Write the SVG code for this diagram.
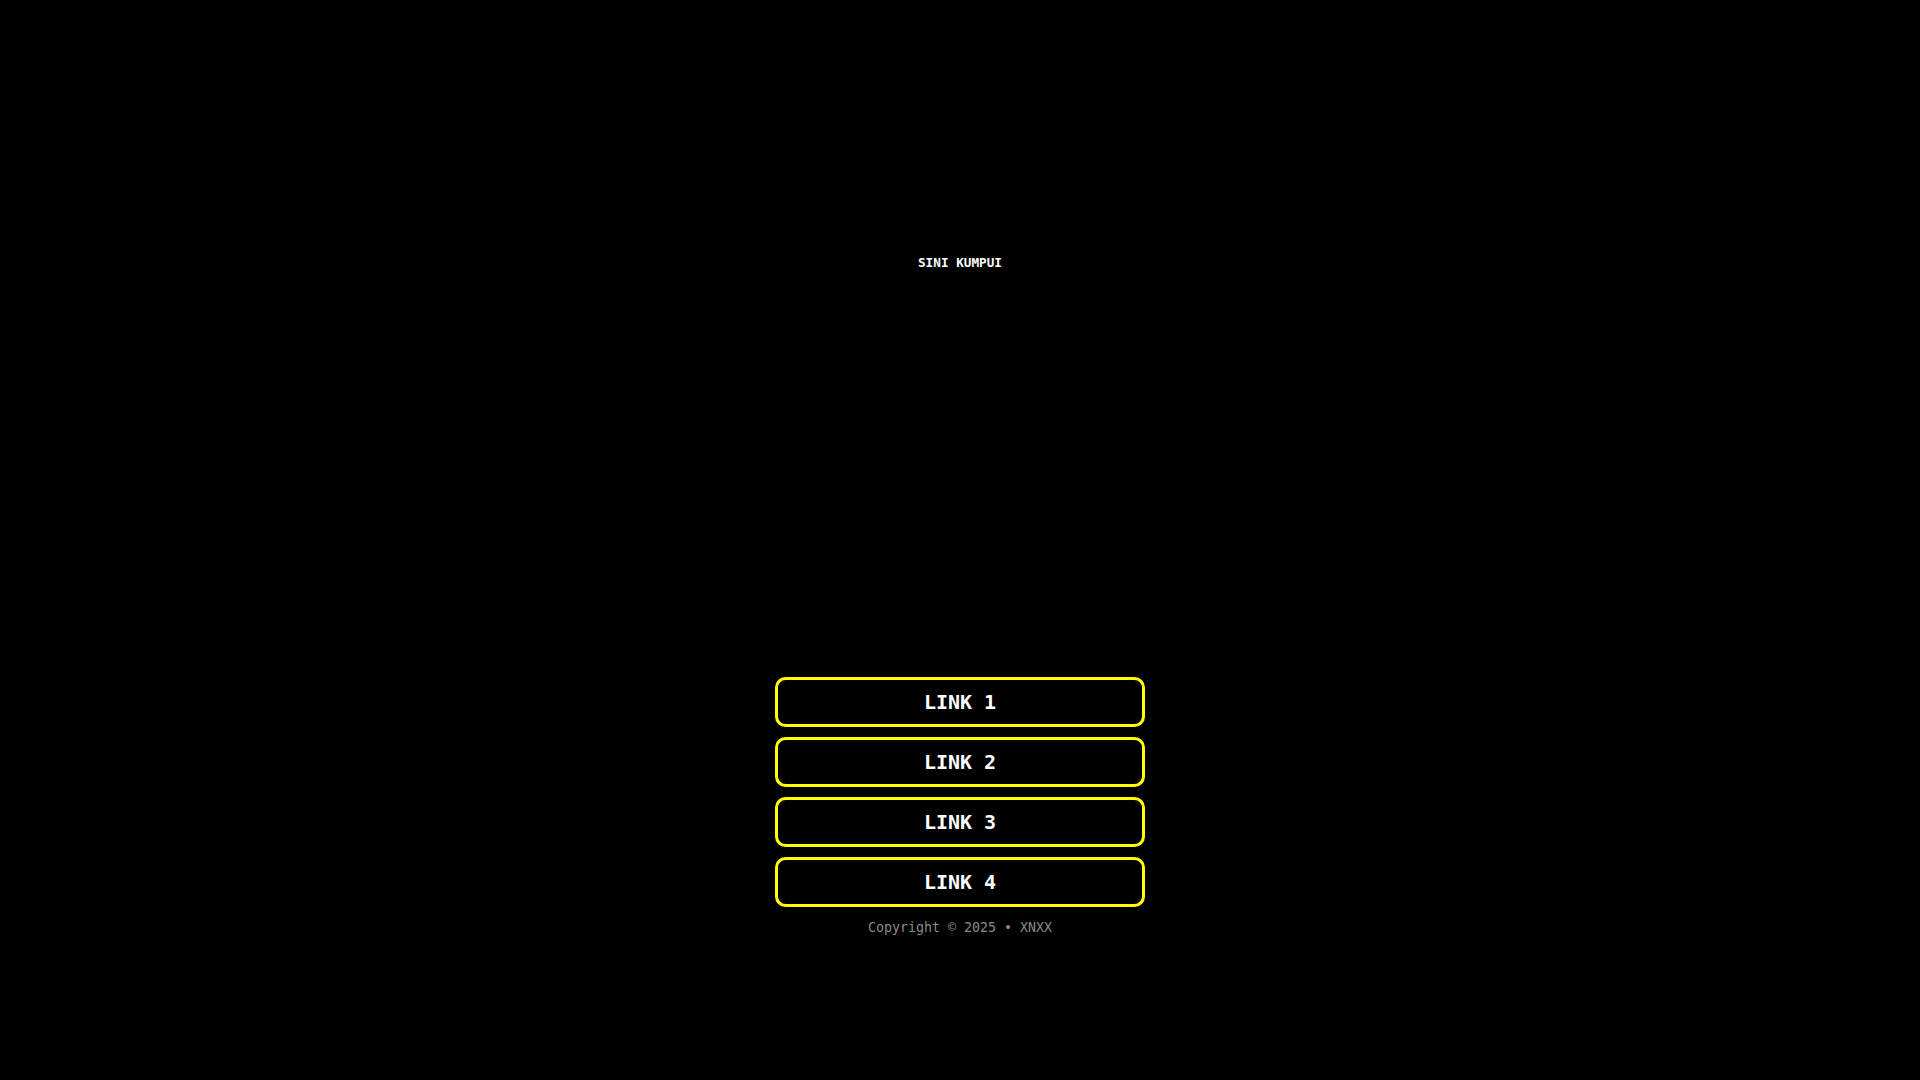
<svg xmlns="http://www.w3.org/2000/svg" width="1920" height="1080" viewBox="0 0 1920 1080">
<style>
.btn{fill:#000;stroke:#ffff00;stroke-width:3}
.lbl{font-family:"DejaVu Sans Mono",monospace;font-weight:bold;font-size:20px;fill:#fff;text-anchor:middle}
.title{font-family:"DejaVu Sans Mono",monospace;font-weight:bold;font-size:12.7px;fill:#fff;text-anchor:middle}
.copy{font-family:"DejaVu Sans Mono",monospace;font-size:13.3px;fill:#8a8a8a;text-anchor:middle}
</style>
<rect width="1920" height="1080" fill="#000"/>
<g id="title"><text class="title" x="960" y="267">SINI KUMPUI</text></g>
<g id="link1"><rect class="btn" x="776.5" y="678.5" width="367" height="47" rx="9"/><text class="lbl" x="960" y="709">LINK 1</text></g>
<g id="link2"><rect class="btn" x="776.5" y="738.5" width="367" height="47" rx="9"/><text class="lbl" x="960" y="769">LINK 2</text></g>
<g id="link3"><rect class="btn" x="776.5" y="798.5" width="367" height="47" rx="9"/><text class="lbl" x="960" y="829">LINK 3</text></g>
<g id="link4"><rect class="btn" x="776.5" y="858.5" width="367" height="47" rx="9"/><text class="lbl" x="960" y="889">LINK 4</text></g>
<g id="footer"><text class="copy" x="960" y="932">Copyright © 2025 • XNXX</text></g>
<g id="connectors"/>
</svg>
